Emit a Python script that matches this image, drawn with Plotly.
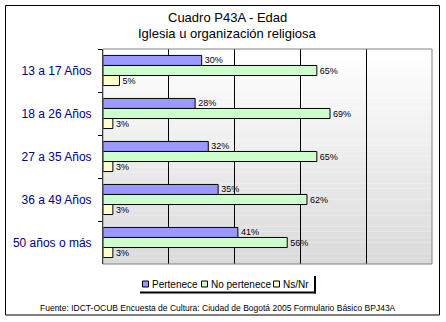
import plotly.graph_objects as go

categories = ["13 a 17 Años", "18 a 26 Años", "27 a 35 Años", "36 a 49 Años", "50 años o más"]
pertenece = [30, 28, 32, 35, 41]
no_pertenece = [65, 69, 65, 62, 56]
nsnr = [5, 3, 3, 3, 3]
series_names = ["Pertenece", "No pertenece", "Ns/Nr"]
series_colors = ["#9999FF", "#CCFFCC", "#FFFFCC"]

fig = go.Figure()
for name, vals, col in zip(series_names, [pertenece, no_pertenece, nsnr], series_colors):
    fig.add_trace(go.Bar(
        y=categories, x=vals, name=name, orientation="h",
        marker=dict(color=col, line=dict(color="black", width=1)),
        text=[f"{v}%" for v in vals], textposition="outside",
        textfont=dict(size=9, color="black", family="Arial, Liberation Sans"),
        cliponaxis=False, showlegend=False,
    ))

L, R, T, B = 103, 14, 49, 58
W, H = 446, 322
pw, ph = W - L - R, H - T - B

def px_x(p):
    return (p - L) / pw

def px_y(p):
    return (H - B - p) / ph

shapes = []
n = 40
for i in range(n):
    c = int(round(255 - (255 - 218) * (1 - (i + 0.5) / n)))
    shapes.append(dict(type="rect", xref="paper", yref="paper", x0=0, x1=1,
                       y0=i / n, y1=(i + 1) / n, fillcolor=f"rgb({c},{c},{c})",
                       line=dict(width=0), layer="below"))
shapes.append(dict(type="rect", xref="paper", yref="paper", x0=0, x1=1, y0=0, y1=1,
                   line=dict(color="#808080", width=1), layer="above"))
shapes.append(dict(type="rect", xref="paper", yref="paper",
                   x0=px_x(5.5), x1=px_x(439.5), y0=px_y(315), y1=px_y(5.5),
                   line=dict(color="black", width=1), layer="above"))
# legend shadow
shapes.append(dict(type="line", xref="paper", yref="paper",
                   x0=px_x(315), x1=px_x(315), y0=px_y(276), y1=px_y(293.5),
                   line=dict(color="black", width=2)))
shapes.append(dict(type="line", xref="paper", yref="paper",
                   x0=px_x(140), x1=px_x(316), y0=px_y(292.5), y1=px_y(292.5),
                   line=dict(color="black", width=2)))

annotations = []
leg_sq_x = [142, 201, 273]
leg_tx_x = [151, 210, 282]
leg_y = 284
for name, col, sx, tx in zip(series_names, series_colors, leg_sq_x, leg_tx_x):
    shapes.append(dict(type="rect", xref="paper", yref="paper",
                       x0=px_x(sx + 0.5), x1=px_x(sx + 6.5),
                       y0=px_y(leg_y + 3), y1=px_y(leg_y - 3),
                       fillcolor=col, line=dict(color="black", width=1)))
    annotations.append(dict(text=name, xref="paper", yref="paper",
                            x=px_x(tx - 1), y=px_y(leg_y), xanchor="left", yanchor="middle",
                            showarrow=False, font=dict(size=10, color="black")))

annotations.append(dict(text="Cuadro P43A - Edad", xref="paper", yref="paper",
                        x=px_x(227), y=px_y(17), xanchor="center", yanchor="middle",
                        showarrow=False, font=dict(size=13, color="black")))
annotations.append(dict(text="Iglesia u organización religiosa", xref="paper", yref="paper",
                        x=px_x(227), y=px_y(33), xanchor="center", yanchor="middle",
                        showarrow=False, font=dict(size=13, color="black")))
annotations.append(dict(text="Fuente: IDCT-OCUB Encuesta de Cultura: Ciudad de Bogotá 2005 Formulario Básico BPJ43A",
                        xref="paper", yref="paper", x=px_x(218), y=px_y(308),
                        xanchor="center", yanchor="middle", showarrow=False,
                        font=dict(size=8.5, color="black")))

fig.update_layout(
    width=W, height=H,
    margin=dict(l=L, r=R, t=T, b=B),
    paper_bgcolor="white", plot_bgcolor="rgba(0,0,0,0)",
    font=dict(family="Arial, Liberation Sans", color="black"),
    barmode="group", bargap=0.3, bargroupgap=0,
    xaxis=dict(range=[0, 100], tickvals=[20, 40, 60, 80], showticklabels=False,
               showgrid=True, gridcolor="black", gridwidth=1, zeroline=False,
               showline=False, ticks=""),
    yaxis=dict(autorange="reversed", showline=True, linecolor="black", linewidth=1,
               ticks="outside", ticklen=4, tickcolor="black", tickson="boundaries",
               showgrid=False, tickfont=dict(size=12, color="#000080"),
               ticklabelstandoff=8),
    showlegend=False,
    shapes=shapes,
    annotations=annotations,
)

fig.write_html("out.html")
